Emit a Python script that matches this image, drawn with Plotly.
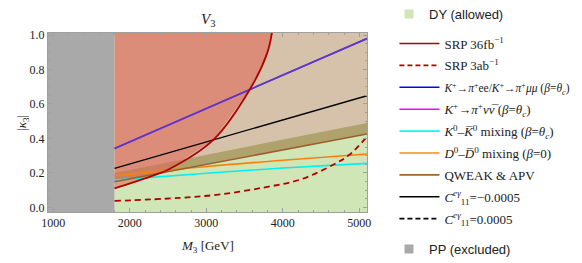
import plotly.graph_objects as go

# ---------------- data ----------------
pp_bound = [900, 1800]            # PP excluded mass range
dy_bound = [1800, 5100]           # DY allowed mass range
k_bounds = [-0.05, 1.05]          # kappa extent for regions

qweak_M = [1800, 5100]
qweak_k = [0.149, 0.426]
band_M = [1800, 5100]
band_top = [0.200, 0.490]

kee_M = [1800, 5100]
kee_k = [0.342, 0.980]
knn_M = [1800, 5100]
knn_k = [0.342, 0.980]

cg_M = [1800, 5100]
cg_k = [0.226, 0.648]

kmix_M = [1800, 3000, 4000, 5100]
kmix_k = [0.158, 0.198, 0.228, 0.255]

dmix_M = [1800, 3000, 4000, 5100]
dmix_k = [0.183, 0.237, 0.273, 0.310]

srp36_M = [1800, 2265, 2505, 3094, 3575, 3794, 3860]
srp36_k = [0.110, 0.178, 0.220, 0.393, 0.690, 0.894, 1.020]

srp3_M = [1800, 2650, 3180, 3750, 4220, 4670, 4870, 5100]
srp3_k = [0.037, 0.055, 0.075, 0.115, 0.160, 0.250, 0.305, 0.410]

xticks = [1000, 2000, 3000, 4000, 5000]
yticks = [0.0, 0.2, 0.4, 0.6, 0.8, 1.0]

SERIF = "Liberation Serif"
SANS = "Liberation Sans"

fig = go.Figure()

def region(xs, ys, color):
    fig.add_trace(go.Scatter(x=xs, y=ys, fill="toself", fillcolor=color, mode="lines",
                             line=dict(width=0), hoverinfo="skip", showlegend=False))

# DY allowed (green)
region([dy_bound[0], dy_bound[1], dy_bound[1], dy_bound[0]],
       [k_bounds[0], k_bounds[0], k_bounds[1], k_bounds[1]], "rgb(208,230,182)")
# PP excluded (gray)
region([pp_bound[0], pp_bound[1], pp_bound[1], pp_bound[0]],
       [k_bounds[0], k_bounds[0], k_bounds[1], k_bounds[1]], "rgb(169,169,169)")
# QWEAK excluded (tan) above brown line
region(qweak_M + [qweak_M[-1], qweak_M[0]], qweak_k + [k_bounds[1], k_bounds[1]], "rgb(214,194,170)")
# band
region(band_M + band_M[::-1], band_top + qweak_k[::-1], "rgb(176,162,108)")
# SRP 36 excluded (red, translucent)
region(srp36_M + [srp36_M[0]], srp36_k + [srp36_k[-1]], "rgba(224,100,84,0.56)")

def line(xs, ys, color, width=1.6, dash="solid", shape="linear"):
    fig.add_trace(go.Scatter(x=xs, y=ys, mode="lines", hoverinfo="skip", showlegend=False,
                             line=dict(color=color, width=width, dash=dash, shape=shape, smoothing=1.0)))

line(kmix_M, kmix_k, "#00f0f0", shape="spline")
line(dmix_M, dmix_k, "#ff7f0e", shape="spline")
line(qweak_M, qweak_k, "#9c6030")
line(cg_M, cg_k, "#000000", width=1.3)
line(kee_M, kee_k, "#6236c8", width=1.6)
line(knn_M, knn_k, "#6236c8", width=1.6)
line(srp3_M, srp3_k, "#b00000", width=1.8, dash="6px,4px", shape="spline")
line(srp36_M, srp36_k, "#b00000", width=1.8, shape="spline")

# ---------------- legends ----------------
def leg_marker(name, color, legend):
    fig.add_trace(go.Scatter(x=[None], y=[None], mode="markers", name=name, legend=legend,
                             marker=dict(symbol="square", size=9, color=color)))

def leg_line(name, color, dash="solid"):
    fig.add_trace(go.Scatter(x=[None], y=[None], mode="lines", name=name, legend="legend2",
                             legendgroup=name, line=dict(color=color, width=1.6, dash=dash)))

leg_marker("DY (allowed)", "rgb(208,230,182)", "legend")
leg_line("SRP 36fb<sup>−1</sup>", "#b00000")
leg_line("SRP 3ab<sup>−1</sup>", "#b00000", dash="5px,3px")
leg_line("<span style='font-size:11.5px'><i>K</i><sup>+</sup>→<i>π</i><sup>+</sup>ee/<i>K</i><sup>+</sup>→<i>π</i><sup>+</sup><i>μμ</i> (<i>β</i>=<i>θ<sub>c</sub></i>)</span>", "#0000ff")
leg_line("<i>K</i><sup>+</sup>→<i>π</i><sup>+</sup><i>νν̅</i> (<i>β</i>=<i>θ<sub>c</sub></i>)", "#ff00ff")
leg_line("<i>K</i><sup>0</sup>–<i>K̅</i><sup>0</sup> mixing (<i>β</i>=<i>θ<sub>c</sub></i>)", "#00ffff")
leg_line("<i>D</i><sup>0</sup>–<i>D̅</i><sup>0</sup> mixing (<i>β</i>=0)", "#ff8c1a")
leg_line("QWEAK &amp; APV", "#a0652e")
leg_line("<i>C</i><sup><i>eγ</i></sup><sub>11</sub>=−0.0005", "#000000")
leg_line("<i>C</i><sup><i>eγ</i></sup><sub>11</sub>=0.0005", "#000000", dash="5px,3px")
leg_marker("PP (excluded)", "rgb(169,169,169)", "legend3")

def axis(**kw):
    d = dict(showgrid=False, zeroline=False, showline=True, linecolor="#a0a0a0", linewidth=1,
             mirror="ticks", ticks="inside", ticklen=4, tickcolor="#a0a0a0",
             tickfont=dict(family=SERIF, size=12, color="#222222"))
    d.update(kw)
    return d

fig.update_layout(
    width=574, height=255,
    margin=dict(l=40, r=215, t=25, b=51, autoexpand=False),
    paper_bgcolor="white", plot_bgcolor="white",
    xaxis=axis(range=[930, 5100], tickvals=xticks,
               minor=dict(dtick=200, ticklen=2, ticks="inside", tickcolor="#a0a0a0")),
    yaxis=axis(range=[-0.027, 1.012], tickvals=yticks, tickformat=".1f",
               minor=dict(dtick=0.05, ticklen=2, ticks="inside", tickcolor="#a0a0a0")),
    legend=dict(x=1.069, y=1.106, xanchor="left", yanchor="middle", bgcolor="rgba(0,0,0,0)",
                font=dict(family=SANS, size=13, color="#222222"), itemwidth=30),
    legend2=dict(x=1.086, y=1.025, xanchor="left", yanchor="top", bgcolor="rgba(0,0,0,0)",
                 font=dict(family=SERIF, size=13, color="#222222"), itemwidth=40,
                 tracegroupgap=2, maxheight=260),
    legend3=dict(x=1.069, y=-0.207, xanchor="left", yanchor="middle", bgcolor="rgba(0,0,0,0)",
                 font=dict(family=SANS, size=13, color="#222222"), itemwidth=30),
    annotations=[
        dict(text="<i>V</i><sub>3</sub>", x=0.5, y=1.073, xref="paper", yref="paper",
             showarrow=False, font=dict(family=SERIF, size=15, color="#222222"), yanchor="middle"),
        dict(text="|<i>κ</i><sub>3</sub>|", x=-0.113, y=0.5, xref="paper", yref="paper", textangle=-90,
             showarrow=False, font=dict(family=SERIF, size=13, color="#222222")),
        dict(text="<i>M</i><sub>3</sub> [GeV]", x=0.5, y=-0.192, xref="paper", yref="paper",
             showarrow=False, font=dict(family=SERIF, size=13, color="#222222"), yanchor="middle"),
    ],
)

fig.write_html("out.html")
